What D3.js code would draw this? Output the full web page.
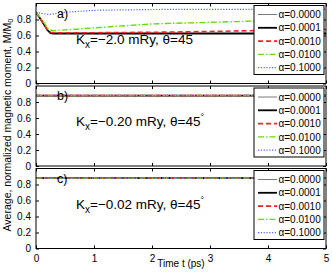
<!DOCTYPE html>
<html>
  <head>
    <meta charset="utf-8">
    <title>Magnetic moment vs time</title>
    <script src="https://d3js.org/d3.v7.min.js"></script>
    <style>
      body { margin: 0; background: #fff; }
      svg { font-family: "Liberation Sans", Arial, sans-serif; }
    </style>
  </head>
  <body>
    <script>
      // damping values and legend labels
      var alphas = ["α=0.0000", "α=0.0001", "α=0.0010", "α=0.0100", "α=0.1000"];

      // panel a) time points (ps) and moments
      var timeA = [0, 0.1, 0.2, 0.25, 0.3, 0.5, 1, 2, 3, 4, 5];
      var a_0000 = [0.89, 0.78, 0.665, 0.63, 0.625, 0.625, 0.625, 0.625, 0.625, 0.625, 0.625];
      var a_0001 = [0.89, 0.78, 0.665, 0.63, 0.625, 0.625, 0.625, 0.625, 0.625, 0.625, 0.625];
      var a_0010 = [0.89, 0.785, 0.67, 0.64, 0.635, 0.635, 0.635, 0.64, 0.65, 0.665, 0.675];
      var a_0100 = [0.89, 0.8, 0.69, 0.665, 0.66, 0.67, 0.695, 0.745, 0.765, 0.785, 0.8];
      var a_1000 = [0.89, 0.875, 0.865, 0.865, 0.87, 0.89, 0.915, 0.925, 0.927, 0.927, 0.927];

      // panels b) and c): all curves stay flat
      var timeB = [0, 5];
      var b_all = [0.88, 0.88];
      var timeC = [0, 5];
      var c_all = [0.88, 0.88];

      var yTicks = [0, 0.2, 0.4, 0.6, 0.8];
      var xTicks = [0, 1, 2, 3, 4, 5];

      var panels = [
        { tag: "a)", kx: "=\u22122.0 mRy,  \u03b8=45", deg: false, time: timeA,
          series: [a_0000, a_0001, a_0010, a_0100, a_1000] },
        { tag: "b)", kx: "=\u22120.20 mRy,  \u03b8=45", deg: true, time: timeB,
          series: [b_all, b_all, b_all, b_all, b_all] },
        { tag: "c)", kx: "=\u22120.02 mRy,  \u03b8=45", deg: true, time: timeC,
          series: [c_all, c_all, c_all, c_all, c_all] }
      ];

      // line styles per damping
      var styles = [
        { color: "#7a7a7a", width: 1, dash: null },
        { color: "#000000", width: 1.8, dash: null },
        { color: "#ff2020", width: 1.6, dash: "5,3" },
        { color: "#66dd00", width: 1.4, dash: "6,2,1.5,2" },
        { color: "#4a6cff", width: 1.2, dash: "1.2,1.6" }
      ];

      var width = 332, height = 273;
      var svg = d3.select("body").append("svg")
        .attr("width", width)
        .attr("height", height);

      var x = d3.scaleLinear().domain([0, 5]).range([36, 326]);
      var panelTop = [3.5, 86, 168.5],
        panelH = 80;

      panels.forEach(function(p, i) {
        var top = panelTop[i], bottom = top + panelH;
        var y = d3.scaleLinear().domain([0, 1]).range([bottom, top]);
        var g = svg.append("g");

        g.append("clipPath").attr("id", "clip" + i)
          .append("rect")
          .attr("x", x(0)).attr("y", top)
          .attr("width", x(5) - x(0)).attr("height", panelH);

        // curves
        var line = d3.line()
          .x(function(d) { return x(d[0]); })
          .y(function(d) { return y(d[1]); });
        var curves = g.append("g").attr("clip-path", "url(#clip" + i + ")");
        p.series.forEach(function(vals, k) {
          var st = styles[k];
          curves.append("path")
            .datum(p.time.map(function(t, j) { return [t, vals[j]]; }))
            .attr("d", line)
            .attr("fill", "none")
            .attr("stroke", st.color)
            .attr("stroke-width", st.width)
            .attr("stroke-dasharray", st.dash);
        });

        // frame
        g.append("rect")
          .attr("x", x(0)).attr("y", top)
          .attr("width", x(5) - x(0)).attr("height", panelH)
          .attr("fill", "none").attr("stroke", "#000").attr("stroke-width", 1);

        // y axis (left) with tick labels, plus mirrored ticks right
        var yAxis = d3.axisLeft(y).tickValues(yTicks).tickSizeInner(-3).tickSizeOuter(0)
          .tickPadding(5).tickFormat(function(d) { return d === 0 ? "0" : d3.format(".1f")(d); });
        var ya = g.append("g").attr("transform", "translate(" + x(0) + ",0)").call(yAxis);
        ya.select(".domain").remove();
        ya.selectAll("text").attr("font-size", 10).attr("font-family", "Liberation Sans, Arial, sans-serif");
        var yr = g.append("g").attr("transform", "translate(" + x(5) + ",0)")
          .call(d3.axisRight(y).tickValues(yTicks).tickSizeInner(-3).tickSizeOuter(0).tickFormat(""));
        yr.select(".domain").remove();

        // x ticks bottom and top
        var xb = g.append("g").attr("transform", "translate(0," + bottom + ")")
          .call(d3.axisBottom(x).tickValues(xTicks).tickSizeInner(-3).tickSizeOuter(0)
            .tickPadding(6).tickFormat(i === 2 ? d3.format("d") : ""));
        xb.select(".domain").remove();
        xb.selectAll("text").attr("font-size", 10).attr("font-family", "Liberation Sans, Arial, sans-serif");
        var xt = g.append("g").attr("transform", "translate(0," + top + ")")
          .call(d3.axisTop(x).tickValues(xTicks).tickSizeInner(-3).tickSizeOuter(0).tickFormat(""));
        xt.select(".domain").remove();

        // panel tag
        g.append("text")
          .attr("x", 57).attr("y", top + 14)
          .attr("font-size", 12.5)
          .text(p.tag);

        // annotation K_x ...
        var ann = g.append("text")
          .attr("x", 76).attr("y", top + 40)
          .attr("font-size", 13.5);
        ann.append("tspan").text("K");
        ann.append("tspan").attr("font-size", 10).attr("dy", 4).text("x");
        ann.append("tspan").attr("dy", -4).text(p.kx);
        if (p.deg) ann.append("tspan").attr("font-size", 9).attr("dy", -6).text("\u00b0");

        // legend
        var lx = 254, ly = top + 2;
        var leg = g.append("g");
        leg.append("rect")
          .attr("x", lx).attr("y", ly)
          .attr("width", 70).attr("height", 69)
          .attr("fill", "#fff").attr("stroke", "#000").attr("stroke-width", 1);
        alphas.forEach(function(label, k) {
          var st = styles[k], ey = ly + 9 + k * 13.3;
          leg.append("line")
            .attr("x1", lx + 4).attr("x2", lx + 23)
            .attr("y1", ey).attr("y2", ey)
            .attr("stroke", st.color)
            .attr("stroke-width", st.width)
            .attr("stroke-dasharray", st.dash);
          leg.append("text")
            .attr("x", lx + 24.5).attr("y", ey + 3.6)
            .attr("font-size", 10)
            .text(label);
        });
      });

      // axis titles
      var yl = svg.append("text")
        .attr("transform", "translate(11,125) rotate(-90)")
        .attr("text-anchor", "middle")
        .attr("font-size", 10.5);
      yl.append("tspan").text("Average, normalized magnetic moment, M/M");
      yl.append("tspan").attr("font-size", 7.5).attr("dy", 2).text("0");

      svg.append("text")
        .attr("x", 181).attr("y", 267)
        .attr("text-anchor", "middle")
        .attr("font-size", 10)
        .text("Time t (ps)");
    </script>
  </body>
</html>
